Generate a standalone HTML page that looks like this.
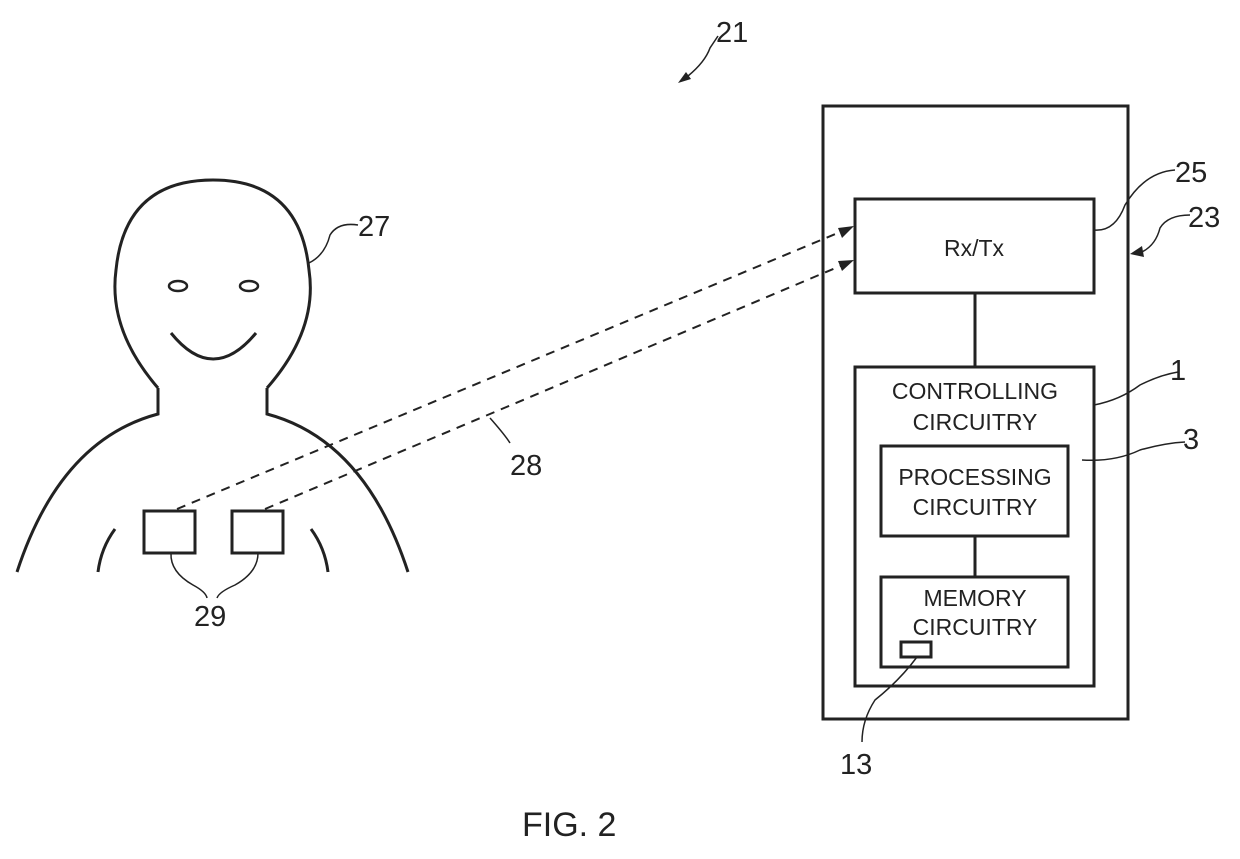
<!DOCTYPE html>
<html><head><style>body{margin:0;background:#fff}svg{display:block}</style></head><body>
<svg width="1240" height="859" viewBox="0 0 1240 859" xmlns="http://www.w3.org/2000/svg" font-family="Liberation Sans, sans-serif" fill="none" stroke="#222">
<g stroke-width="3">
<path d="M158,388 L158,414 Q60,440 17,572" />
<path d="M267,388 L267,414 Q365,440 408,572" />
<path d="M158,388 Q108,330 116,270 Q125,180 213,180 Q300,180 309,270 Q318,330 267,388" />
<path d="M171,333 Q213,385 256,333" />
<ellipse cx="178" cy="286" rx="9" ry="5" stroke-width="2.5"/>
<ellipse cx="249" cy="286" rx="9" ry="5" stroke-width="2.5"/>
<path d="M115,529 Q101,548 98,572"/>
<path d="M311,529 Q325,548 328,572"/>
<rect x="144" y="511" width="51" height="42"/>
<rect x="232" y="511" width="51" height="42"/>
<rect x="823" y="106" width="305" height="613"/>
<rect x="855" y="199" width="239" height="94"/>
<rect x="855" y="367" width="239" height="319"/>
<rect x="881" y="446" width="187" height="90"/>
<rect x="881" y="577" width="187" height="90"/>
<rect x="901" y="642" width="30" height="15"/>
<line x1="975" y1="293" x2="975" y2="367"/>
<line x1="975" y1="536" x2="975" y2="577"/>
</g>
<g stroke-width="2" stroke-dasharray="9,7">
<line x1="177" y1="509" x2="845" y2="230"/>
<line x1="265" y1="509" x2="845" y2="264"/>
</g>
<g fill="#222" stroke="none">
<polygon points="854,226 838,228 842,238"/>
<polygon points="854,260 838,261 842,271"/>
<polygon points="1130,254 1142,246 1144,257"/>
<polygon points="678,83 686,72 691,79"/>
</g>
<g stroke-width="1.5">
<path d="M309,263 Q325,255 330,235 Q338,222 358,225"/>
<path d="M1094,230 Q1115,232 1125,205 Q1145,172 1175,170"/>
<path d="M1137,254 Q1155,248 1160,228 Q1168,215 1190,215"/>
<path d="M1094,405 Q1120,400 1140,385 Q1160,375 1178,372"/>
<path d="M1082,460 Q1115,462 1140,450 Q1165,443 1185,442"/>
<path d="M917,657 Q900,680 875,700 Q862,720 862,742"/>
<path d="M171,553 Q170,572 193,585 Q206,592 207,598"/>
<path d="M258,553 Q258,572 235,585 Q219,592 217,598"/>
<path d="M688,76 Q705,62 710,48 Q718,36 718,36"/>
<path d="M490,418 Q505,435 510,443"/>
</g>
<g fill="#222" stroke="none" font-size="29">
<text x="716" y="42">21</text>
<text x="358" y="236">27</text>
<text x="1175" y="182">25</text>
<text x="1188" y="227">23</text>
<text x="1170" y="380">1</text>
<text x="1183" y="449">3</text>
<text x="510" y="475">28</text>
<text x="194" y="626">29</text>
<text x="840" y="774">13</text>
<text x="522" y="836" font-size="34">FIG. 2</text>
<g font-size="23" text-anchor="middle" textLength="0">
<text x="974" y="256">Rx/Tx</text>
<text x="975" y="399">CONTROLLING</text>
<text x="975" y="430">CIRCUITRY</text>
<text x="975" y="485">PROCESSING</text>
<text x="975" y="515">CIRCUITRY</text>
<text x="975" y="606">MEMORY</text>
<text x="975" y="635">CIRCUITRY</text>
</g>
</g>
</svg>
</body></html>
